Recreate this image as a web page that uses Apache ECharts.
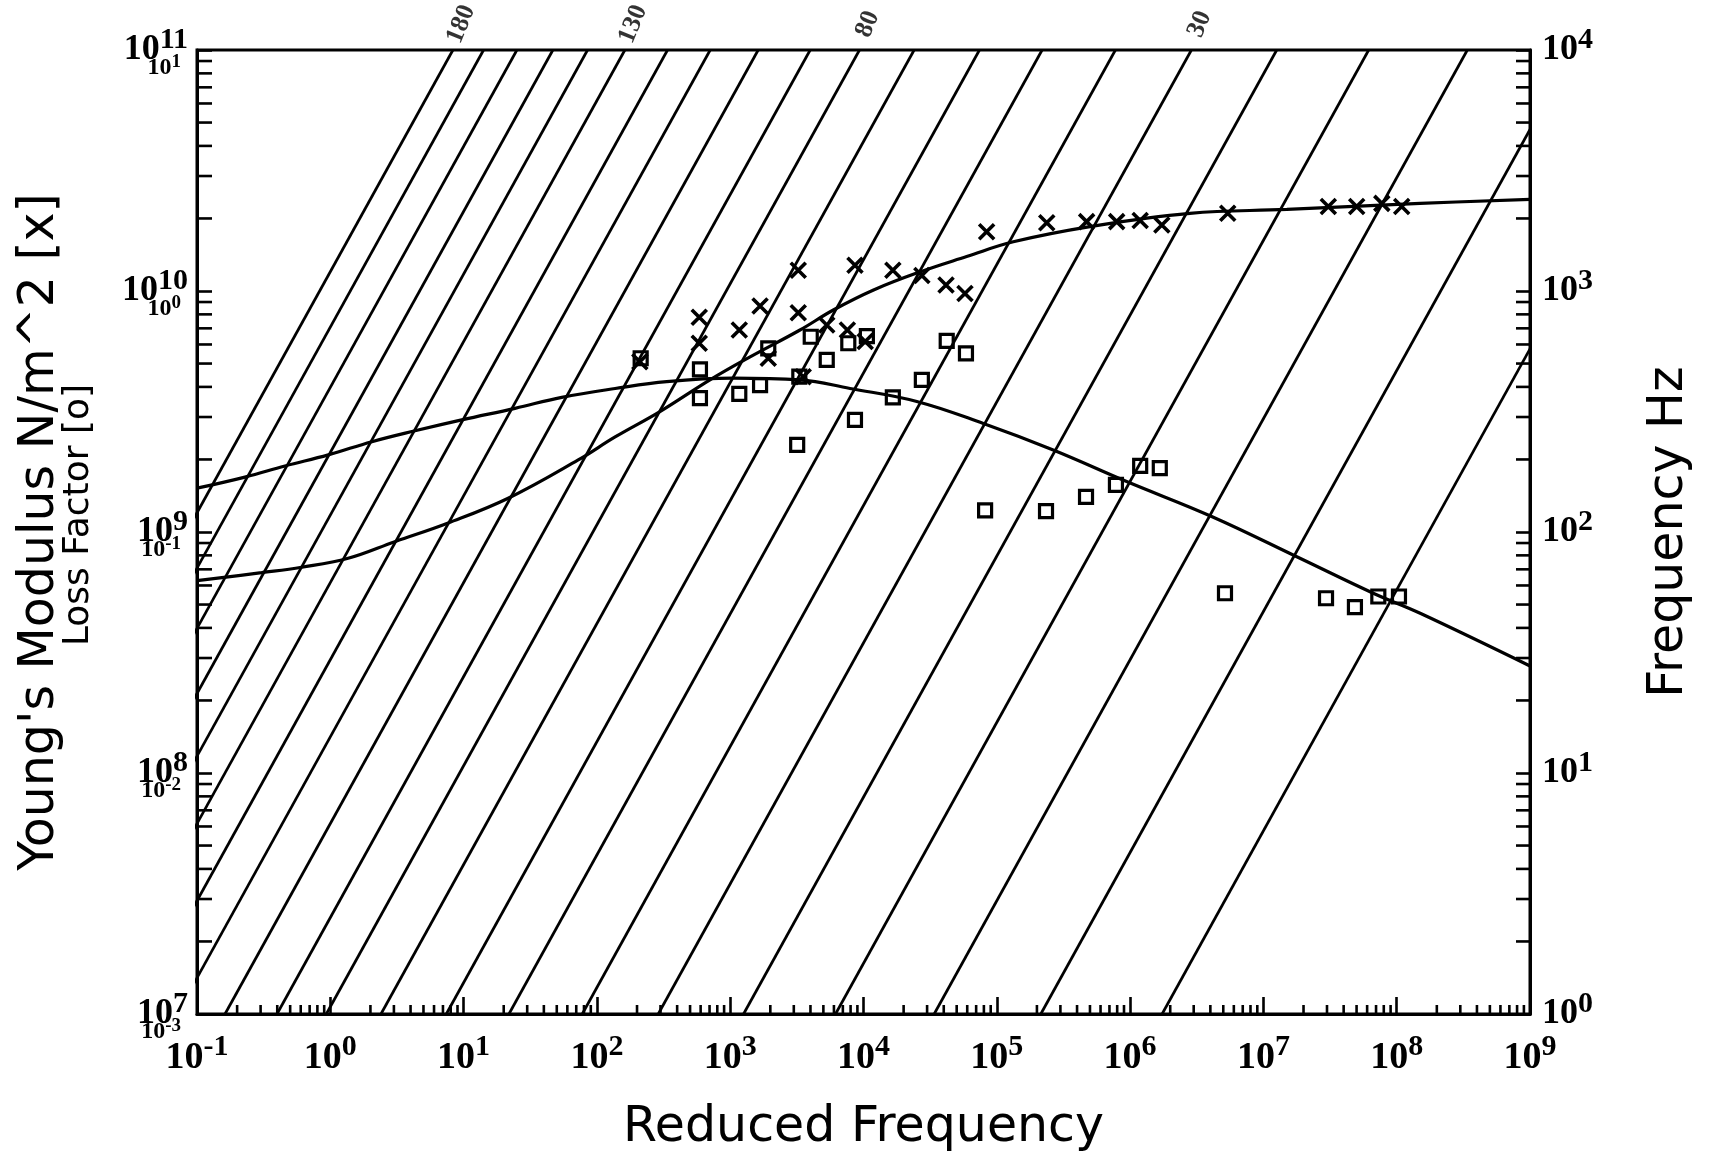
<!DOCTYPE html>
<html lang="en">
<head>
<meta charset="utf-8">
<title>Reduced frequency nomogram</title>
<script src="https://cdn.jsdelivr.net/npm/echarts@6/dist/echarts.min.js"></script>
<style>
  html, body { margin: 0; background: #fff; }
  #main { width: 1725px; height: 1163px; }
</style>
</head>
<body>
<div id="main"></div>
<script>
// isotherms: temperature and log10 of the shift factor aT (f_reduced = f * aT)
var isoTemps = [180, 170, 160, 150, 140, 130, 120, 110, 100, 90, 80, 70, 60, 50, 40, 30, 20, 10, 0, -10, -20];
var isoLogShift = [-3.08, -2.85, -2.60, -2.33, -2.07, -1.79, -1.47, -1.15, -0.79, -0.40, -0.03,
                   0.38, 0.87, 1.34, 1.89, 2.46, 3.10, 3.79, 4.53, 5.33, 6.24];
var isoLabelled = [180, 130, 80, 30];

// measured Young's modulus [x]
var modFreq = [210, 586, 586, 1170, 1675, 1930, 3240, 3240, 3530, 5300, 7570, 8630, 1.03e4, 1.66e4,
               2.74e4, 4.16e4, 5.77e4, 8.39e4, 2.37e5, 4.72e5, 7.93e5, 1.19e6, 1.73e6, 5.40e6,
               3.07e7, 5.01e7, 7.73e7, 1.09e8];
var modVal = [5.09e9, 7.78e9, 6.07e9, 6.89e9, 8.67e9, 5.26e9, 1.22e10, 8.13e9, 4.41e9, 7.23e9, 6.89e9,
              1.28e10, 6.17e9, 1.22e10, 1.16e10, 1.06e10, 9.77e9, 1.76e10, 1.92e10, 1.94e10, 1.94e10,
              1.96e10, 1.88e10, 2.10e10, 2.24e10, 2.24e10, 2.31e10, 2.24e10];

// measured loss factor [o]
var lossFreq = [213, 593, 593, 1170, 1675, 1930, 3180, 3300, 4020, 5300, 7690, 8630, 1.06e4, 1.66e4,
                2.74e4, 4.21e4, 5.87e4, 8.17e4, 2.34e5, 4.67e5, 7.83e5, 1.19e6, 1.67e6, 5.15e6,
                2.95e7, 4.86e7, 7.28e7, 1.04e8];
var lossVal = [0.526, 0.473, 0.359, 0.374, 0.407, 0.578, 0.230, 0.441, 0.646, 0.518, 0.607, 0.292,
               0.650, 0.362, 0.428, 0.621, 0.551, 0.123, 0.122, 0.140, 0.157, 0.188, 0.184, 0.0557,
               0.0531, 0.0488, 0.0540, 0.0540];

// fitted master curves
var modCurveFreq = [0.1, 0.305, 0.61, 1.36, 3.05, 7.67, 21.6, 72.4, 137, 297, 705, 1410, 3340, 5940,
                    1.19e4, 2.65e4, 5.94e4, 1.33e5, 5.0e5, 2.81e6, 1.5e7, 1.5e8, 1e9];
var modCurveVal = [6.28e8, 6.78e8, 7.14e8, 7.78e8, 9.12e8, 1.09e9, 1.38e9, 1.99e9, 2.48e9, 3.16e9,
                   4.28e9, 5.33e9, 6.89e9, 8.34e9, 1.01e10, 1.20e10, 1.39e10, 1.60e10, 1.85e10,
                   2.10e10, 2.18e10, 2.31e10, 2.40e10];
var lossCurveFreq = [0.1, 0.229, 0.457, 0.966, 2.05, 4.32, 9.68, 24.3, 54.5, 137, 334, 1050, 3340,
                     7930, 2.51e4, 7.93e4, 2.65e5, 9.42e5, 4.09e6, 1.88e7, 6.67e7, 1.5e8, 1e9];
var lossCurveVal = [0.152, 0.169, 0.188, 0.209, 0.237, 0.263, 0.292, 0.326, 0.362, 0.394, 0.421,
                    0.435, 0.428, 0.394, 0.348, 0.282, 0.219, 0.162, 0.116, 0.0778, 0.0557, 0.046,
                    0.0278];

var TICK_FONT = '"Liberation Serif", serif';
var TITLE_FONT = '"DejaVu Sans", sans-serif';

function zip(a, b) { return a.map(function (v, i) { return [v, b[i]]; }); }
function expOf(v) { return Math.round(Math.log10(v)); }
function powLabel(v) { return '{b|10}{s|' + expOf(v) + '}'; }
function powRich(base, sup, lh) {
    return {
        b: { fontFamily: TICK_FONT, fontWeight: 'bold', fontSize: base, lineHeight: lh, color: '#000' },
        s: { fontFamily: TICK_FONT, fontWeight: 'bold', fontSize: sup, verticalAlign: 'top', color: '#000' }
    };
}
function minorValues(lo, hi) {
    var out = [];
    for (var e = lo; e < hi; e++) {
        for (var m = 2; m <= 9; m++) out.push(m * Math.pow(10, e));
    }
    return out;
}
function tickSeries(yIdx, data, dx, dy) {
    return {
        type: 'custom', xAxisIndex: 0, yAxisIndex: yIdx, silent: true, z: 6,
        data: data,
        renderItem: function (params, api) {
            var p = api.coord([api.value(0), api.value(1)]);
            return {
                type: 'line',
                shape: { x1: p[0], y1: p[1], x2: p[0] + dx, y2: p[1] + dy },
                style: { stroke: '#000', lineWidth: 2.6 }
            };
        }
    };
}

var chart = echarts.init(document.getElementById('main'));

var series = isoLogShift.map(function (c, i) {
    return {
        type: 'line', name: 'T' + isoTemps[i], xAxisIndex: 0, yAxisIndex: 2,
        data: [[Math.pow(10, c), 1], [Math.pow(10, c + 4), 1e4]],
        symbol: 'none', clip: true, silent: true,
        lineStyle: { color: '#000', width: 2.7 }
    };
});

series.push({
    type: 'line', name: 'modulus fit', xAxisIndex: 0, yAxisIndex: 0,
    data: zip(modCurveFreq, modCurveVal), smooth: 0.4, symbol: 'none', clip: true,
    lineStyle: { color: '#000', width: 3.2 }
}, {
    type: 'line', name: 'loss fit', xAxisIndex: 0, yAxisIndex: 1,
    data: zip(lossCurveFreq, lossCurveVal), smooth: 0.4, symbol: 'none', clip: true,
    lineStyle: { color: '#000', width: 3.2 }
}, {
    type: 'scatter', name: 'modulus', xAxisIndex: 0, yAxisIndex: 0,
    data: zip(modFreq, modVal),
    symbol: 'path://M0 0L10 10M10 0L0 10', symbolSize: 15, z: 4,
    itemStyle: { color: 'none', borderColor: '#000', borderWidth: 3.6, opacity: 1 }
}, {
    type: 'scatter', name: 'loss factor', xAxisIndex: 0, yAxisIndex: 1,
    data: zip(lossFreq, lossVal),
    symbol: 'rect', symbolSize: 13, z: 4,
    itemStyle: { color: 'rgba(0,0,0,0)', borderColor: '#000', borderWidth: 3.2, opacity: 1 }
}, {
    type: 'scatter', name: 'isotherm labels', xAxisIndex: 0, yAxisIndex: 2,
    clip: false, symbolSize: 0, silent: true,
    data: isoTemps.map(function (t, i) {
        return [Math.pow(10, isoLogShift[i] + 4), 1e4, t];
    }).filter(function (d) { return isoLabelled.indexOf(d[2]) >= 0; }),
    label: {
        show: true, position: 'inside', offset: [27, -2], rotate: 68,
        formatter: function (p) { return String(p.value[2]); },
        fontFamily: TICK_FONT, fontWeight: 'bold', fontSize: 26, color: '#000'
    }
});

series.push(
    tickSeries(0, minorValues(-1, 9).map(function (v) { return [v, 1e7]; }), 0, -9),
    tickSeries(0, minorValues(7, 11).map(function (v) { return [0.1, v]; }), 15, 0),
    tickSeries(2, minorValues(0, 4).map(function (v) { return [1e9, v]; }), -14, 0)
);

chart.setOption({
    animation: false,
    backgroundColor: '#fff',
    grid: {
        left: 197, right: 195, top: 50, bottom: 149,
        show: true, borderColor: '#000', borderWidth: 3,
        containLabel: false, outerBoundsMode: 'none'
    },
    xAxis: [{
        type: 'log', logBase: 10, min: 0.1, max: 1e9, splitNumber: 10,
        name: 'Reduced Frequency', nameLocation: 'middle', nameGap: 90,
        nameTextStyle: { fontFamily: TITLE_FONT, fontSize: 49, color: '#000' },
        axisLine: { lineStyle: { color: '#000', width: 3 } },
        axisTick: { inside: true, length: 17, lineStyle: { color: '#000', width: 2.6 } },
        splitLine: { show: false },
        axisLabel: {
            formatter: powLabel, margin: 18, showMinLabel: true, showMaxLabel: true, hideOverlap: false,
            rich: powRich(38, 30, 52)
        }
    }],
    yAxis: [{
        type: 'log', logBase: 10, min: 1e7, max: 1e11, splitNumber: 4, position: 'left',
        name: "Young's Modulus N/m^2 [x]", nameLocation: 'middle', nameRotate: 90, nameGap: 132,
        nameTextStyle: { fontFamily: TITLE_FONT, fontSize: 49, color: '#000' },
        axisLine: { show: true, lineStyle: { color: '#000', width: 3 } },
        axisTick: { inside: true, length: 15, lineStyle: { color: '#000', width: 2.6 } },
        splitLine: { show: false },
        axisLabel: {
            formatter: powLabel, margin: 9, showMinLabel: true, showMaxLabel: true, hideOverlap: false,
            rich: powRich(36, 30, 50)
        }
    }, {
        type: 'log', logBase: 10, min: 1e-3, max: 10, splitNumber: 4, position: 'left',
        name: 'Loss Factor [o]', nameLocation: 'middle', nameRotate: 90, nameGap: 100,
        nameTextStyle: { fontFamily: TITLE_FONT, fontSize: 36, color: '#000', padding: [0, 0, 0, 34] },
        axisLine: { show: false }, axisTick: { show: false }, splitLine: { show: false },
        axisLabel: {
            formatter: powLabel, margin: 16, padding: [36, 0, 0, 0],
            showMinLabel: true, showMaxLabel: true, hideOverlap: false,
            rich: powRich(24, 19, 30)
        }
    }, {
        type: 'log', logBase: 10, min: 1, max: 1e4, splitNumber: 4, position: 'right',
        name: 'Frequency Hz', nameLocation: 'middle', nameRotate: 90, nameGap: 115,
        nameTextStyle: { fontFamily: TITLE_FONT, fontSize: 49, color: '#000' },
        axisLine: { show: true, lineStyle: { color: '#000', width: 3 } },
        axisTick: { inside: true, length: 14, lineStyle: { color: '#000', width: 2.6 } },
        splitLine: { show: false },
        axisLabel: {
            formatter: powLabel, margin: 12, showMinLabel: true, showMaxLabel: true, hideOverlap: false,
            rich: powRich(36, 30, 50)
        }
    }],
    series: series
});
</script>
</body>
</html>
